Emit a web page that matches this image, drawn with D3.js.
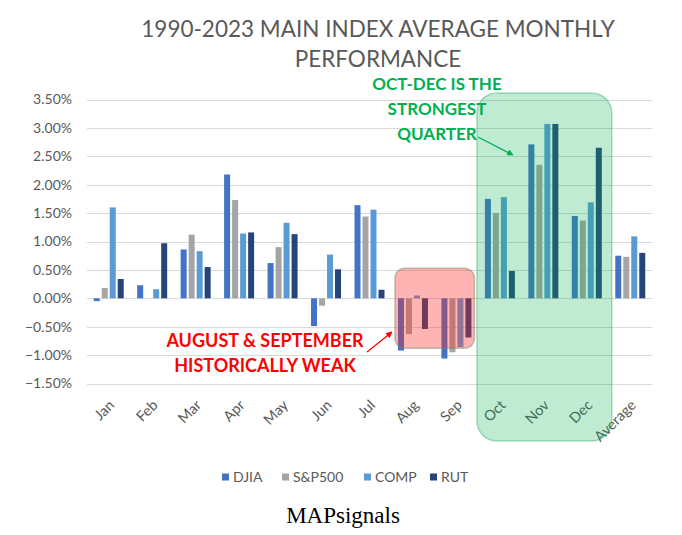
<!DOCTYPE html>
<html><head><meta charset="utf-8">
<script src="https://cdn.jsdelivr.net/npm/d3@7"></script>
<style>body{margin:0;background:#fff}svg{display:block}</style>
</head><body>
<script>
const months = ["Jan","Feb","Mar","Apr","May","Jun","Jul","Aug","Sep","Oct","Nov","Dec","Average"];
const seriesNames = ["DJIA","S&P500","COMP","RUT"];
const djia  = [-0.05,0.23,0.86,2.18,0.62,-0.49,1.64,-0.92,-1.06,1.75,2.71,1.45,0.75];
const sp500 = [0.18,0.00,1.12,1.73,0.90,-0.13,1.44,-0.63,-0.95,1.50,2.35,1.37,0.73];
const comp  = [1.60,0.16,0.83,1.14,1.33,0.77,1.56,0.05,-0.86,1.78,3.07,1.69,1.09];
const rut   = [0.34,0.97,0.55,1.16,1.13,0.51,0.15,-0.54,-0.69,0.48,3.07,2.65,0.80];
const yTicks = [-1.5,-1.0,-0.5,0,0.5,1.0,1.5,2.0,2.5,3.0,3.5];
const colors = ["#4472C4","#A5A5A5","#5B9BD5","#264478"];
const values = [djia, sp500, comp, rut];

(function () {
const W = 682, H = 535;
const svg = d3.select("body").append("svg").attr("width", W).attr("height", H);
const pL = 87, pR = 652, pT = 99.5, pB = 383.5;
const y = d3.scaleLinear().domain([-1.5, 3.5]).range([pB, pT]);
const x0 = d3.scaleBand().domain(months).range([pL, pR]).paddingInner(0.31).paddingOuter(0.155);
const x1 = d3.scaleBand().domain(seriesNames).range([0, x0.bandwidth()]).paddingInner(0.25).paddingOuter(0);
const grey = "#595959";
const font = "Lato, 'Open Sans', sans-serif";

// gridlines
svg.append("g").selectAll("line").data(yTicks).join("line")
  .attr("x1", pL).attr("x2", pR)
  .attr("y1", d => Math.round(y(d)) + 0.5).attr("y2", d => Math.round(y(d)) + 0.5)
  .attr("stroke", "#D9D9D9").attr("stroke-width", 1);

// y axis labels
const yAxis = d3.axisLeft(y).tickValues(yTicks).tickSize(0).tickPadding(0)
  .tickFormat(d => d3.format(".2f")(d) + "%");
const yg = svg.append("g").attr("transform", `translate(${pL - 15},0)`).call(yAxis);
yg.select(".domain").remove();
yg.selectAll("text").attr("fill", grey).style("font-family", font).style("font-size", "14px");

// bars
const groups = svg.append("g").selectAll("g").data(months).join("g")
  .attr("transform", d => `translate(${x0(d)},0)`);
groups.selectAll("rect").data((m, i) => seriesNames.map((s, k) => ({s, k, v: values[k][i]})))
  .join("rect")
  .attr("x", d => x1(d.s)).attr("width", x1.bandwidth())
  .attr("y", d => y(Math.max(0, d.v))).attr("height", d => Math.abs(y(d.v) - y(0)))
  .attr("fill", d => colors[d.k]);

// x axis labels
const xAxis = d3.axisBottom(x0).tickSize(0).tickPadding(0);
const xg = svg.append("g").attr("transform", `translate(0,${pB + 10})`).call(xAxis);
xg.select(".domain").remove();
xg.selectAll("text").attr("fill", grey).style("font-family", font).style("font-size", "14.5px")
  .attr("text-anchor", "end").attr("dy", "0.35em")
  .attr("transform", "translate(3,9) rotate(-45)");

// red box overlay (Aug-Sep)
const redX0 = x0("Aug") - 3, redX1 = x0("Sep") + x0.bandwidth() + 3;
svg.append("rect").attr("x", redX0).attr("y", y(0.53)).attr("width", redX1 - redX0)
  .attr("height", y(-0.88) - y(0.53)).attr("rx", 10)
  .attr("fill", "rgba(255,40,40,0.35)").attr("stroke", "rgba(120,130,90,0.45)").attr("stroke-width", 1.5);

// green box overlay (Oct-Dec)
const gX0 = x0("Oct") - 8, gX1 = x0("Dec") + x0.bandwidth() + 10;
svg.append("rect").attr("x", gX0).attr("y", 93).attr("width", gX1 - gX0)
  .attr("height", 441 - 93).attr("rx", 20)
  .attr("fill", "rgba(0,176,80,0.25)").attr("stroke", "rgba(0,150,70,0.3)").attr("stroke-width", 1.5);

// title
const title = svg.append("text").attr("x", 378).attr("text-anchor", "middle")
  .attr("fill", grey).style("font-family", font).style("font-size", "22.5px").style("font-weight", 400);
title.append("tspan").attr("x", 378).attr("y", 37).text("1990-2023 MAIN INDEX AVERAGE MONTHLY");
title.append("tspan").attr("x", 378).attr("y", 67).text("PERFORMANCE");

// green annotation
const ga = svg.append("text").attr("text-anchor", "middle").attr("fill", "#00B050")
  .style("font-family", font).style("font-size", "17px").style("font-weight", 700);
[["OCT-DEC IS THE", 90], ["STRONGEST", 115], ["QUARTER", 140]].forEach(([t, yy]) =>
  ga.append("tspan").attr("x", 437).attr("y", yy).text(t));

// red annotation
const ra = svg.append("text").attr("text-anchor", "middle").attr("fill", "#FF0000")
  .style("font-family", font).style("font-size", "18px").style("font-weight", 700);
[["AUGUST & SEPTEMBER", 347], ["HISTORICALLY WEAK", 372]].forEach(([t, yy]) =>
  ra.append("tspan").attr("x", 265).attr("y", yy).text(t));

// arrows
const defs = svg.append("defs");
function marker(id, col) {
  defs.append("marker").attr("id", id).attr("viewBox", "0 0 10 10").attr("refX", 9).attr("refY", 5)
    .attr("markerWidth", 5).attr("markerHeight", 5).attr("orient", "auto")
    .append("path").attr("d", "M0,0 L10,5 L0,10 Z").attr("fill", col);
}
marker("ag", "#00B050"); marker("ar", "#FF0000");
svg.append("line").attr("x1", 478).attr("y1", 137).attr("x2", 513).attr("y2", 155)
  .attr("stroke", "#00B050").attr("stroke-width", 1.3).attr("marker-end", "url(#ag)");
svg.append("line").attr("x1", 367).attr("y1", 352).attr("x2", 392).attr("y2", 332)
  .attr("stroke", "#FF0000").attr("stroke-width", 1.3).attr("marker-end", "url(#ar)");

// legend
const legX = [222, 282, 364, 430];
const leg = svg.append("g").selectAll("g").data(seriesNames).join("g")
  .attr("transform", (d, i) => `translate(${legX[i]},477)`);
leg.append("rect").attr("x", 0).attr("y", -3.5).attr("width", 7).attr("height", 7).attr("fill", (d, i) => colors[i]);
leg.append("text").attr("x", 11).attr("y", 0).attr("dy", "0.35em").text(d => d)
  .attr("fill", grey).style("font-family", font).style("font-size", "14px");

// source
svg.append("text").attr("x", 343).attr("y", 523).attr("text-anchor", "middle")
  .style("font-family", "'Liberation Serif', 'Times New Roman', serif").style("font-size", "23px")
  .attr("fill", "#000").text("MAPsignals");
})();
</script>
</body></html>
